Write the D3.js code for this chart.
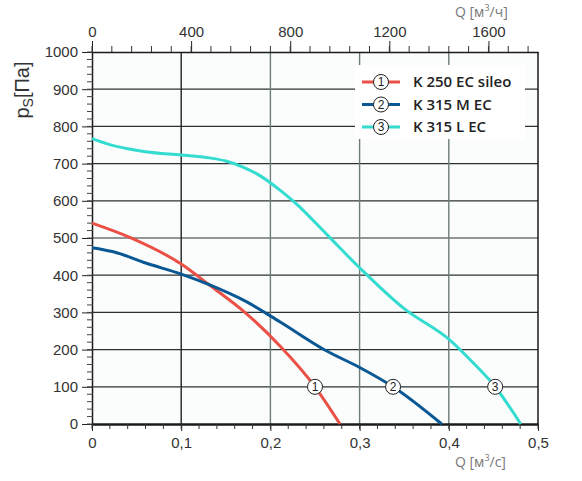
<!DOCTYPE html>
<html>
<head>
<meta charset="utf-8">
<script src="https://cdn.jsdelivr.net/npm/d3@7"></script>
<style>
  body { margin: 0; background: #fff; }
</style>
</head>
<body>
<svg id="chart" width="582" height="481"></svg>
<script>
// series data: Q in m3/s, ps in Pa
const seriesNames = ["K 250 EC sileo", "K 315 M EC", "K 315 L EC"];
const seriesColors = ["#ea5046", "#0a5893", "#34dbcf"];

const k250Q = [0, 0.043, 0.1, 0.132, 0.173, 0.211, 0.25, 0.278];
const k250P = [540, 501, 430, 373, 297, 209, 100, 0];

const k315mQ = [0, 0.024, 0.061, 0.1, 0.132, 0.173, 0.211, 0.261, 0.3, 0.3375, 0.392];
const k315mP = [474, 463, 432, 403, 374, 329, 274, 199, 152, 100, 0];

const k315lQ = [0, 0.02, 0.04, 0.06, 0.1, 0.13, 0.15, 0.17, 0.19, 0.21, 0.23, 0.265, 0.3, 0.35, 0.4, 0.425, 0.452, 0.4806];
const k315lP = [767, 751, 740, 732, 723, 716, 707, 690, 665, 630, 590, 505, 420, 310, 228, 170, 100, 0];

// where the numbered circles sit on each curve
const markerQ = [0.25, 0.3375, 0.452];
const markerP = [100, 100, 100];

const bottomTicks = [0, 0.1, 0.2, 0.3, 0.4, 0.5];
const bottomLabels = ["0", "0,1", "0,2", "0,3", "0,4", "0,5"];
const leftTicks = [0, 100, 200, 300, 400, 500, 600, 700, 800, 900, 1000];
const topTicks = [0, 400, 800, 1200, 1600];

const seriesQ = [k250Q, k315mQ, k315lQ];
const seriesP = [k250P, k315mP, k315lP];

const tickFont = "Arial, 'Liberation Sans', sans-serif";
const labelFont = "'Open Sans', sans-serif";

const svg = d3.select("#chart");
const plotL = 92, plotR = 538, plotT = 52, plotB = 424;

const x = d3.scaleLinear().domain([0, 0.5]).range([plotL, plotR]);
const xh = d3.scaleLinear().domain([0, 1800]).range([plotL, plotR]);
const y = d3.scaleLinear().domain([0, 1000]).range([plotB, plotT]);

// plot background
svg.append("rect")
  .attr("x", plotL).attr("y", plotT)
  .attr("width", plotR - plotL).attr("height", plotB - plotT)
  .attr("fill", "#fbfdfd");

// grid
svg.append("g")
  .selectAll("line")
  .data(leftTicks.slice(1, -1))
  .join("line")
  .attr("x1", plotL).attr("x2", plotR)
  .attr("y1", d => y(d)).attr("y2", d => y(d))
  .attr("stroke", "#2b3131").attr("stroke-width", 1.2);

svg.append("g")
  .selectAll("line")
  .data(bottomTicks.slice(1, -1))
  .join("line")
  .attr("x1", d => x(d)).attr("x2", d => x(d))
  .attr("y1", plotT).attr("y2", plotB)
  .attr("stroke", (d, i) => i === 0 ? "#222" : "#6e7b7b").attr("stroke-width", 1.4);

// legend box hides the grid behind it
const legend = svg.append("g");
legend.append("rect")
  .attr("x", 355).attr("y", 65).attr("width", 170).attr("height", 74)
  .attr("fill", "#fff");

// axes
const axisBottom = d3.axisBottom(x)
  .tickValues(bottomTicks)
  .tickFormat((d, i) => bottomLabels[i])
  .tickSize(7).tickSizeOuter(0);
const gB = svg.append("g").attr("transform", `translate(0,${plotB})`).call(axisBottom);
gB.append("g").selectAll("line")
  .data(d3.range(0, 0.5001, 0.02))
  .join("line")
  .attr("x1", d => x(d)).attr("x2", d => x(d))
  .attr("y1", 0).attr("y2", 5)
  .attr("stroke", "#333");

const axisLeft = d3.axisLeft(y)
  .tickValues(leftTicks)
  .tickFormat(d3.format("d"))
  .tickSize(10).tickSizeOuter(0);
const gL = svg.append("g").attr("transform", `translate(${plotL},0)`).call(axisLeft);
gL.append("g").selectAll("line")
  .data(d3.range(0, 1001, 20))
  .join("line")
  .attr("x1", -5).attr("x2", 1)
  .attr("y1", d => y(d)).attr("y2", d => y(d))
  .attr("stroke", "#444");

const axisTop = d3.axisTop(xh)
  .tickValues(topTicks)
  .tickFormat(d3.format("d"))
  .tickSize(11).tickSizeOuter(0);
const gT = svg.append("g").attr("transform", `translate(0,${plotT})`).call(axisTop);
gT.append("g").selectAll("line")
  .data(d3.range(0, 1801, 80))
  .join("line")
  .attr("x1", d => xh(d)).attr("x2", d => xh(d))
  .attr("y1", 0).attr("y2", -6)
  .attr("stroke", "#333");

[gB, gL, gT].forEach(g => {
  g.attr("font-family", tickFont);
  g.select(".domain").attr("stroke", "#1a1a1a");
  g.selectAll(".tick line").attr("stroke", "#222");
  g.selectAll(".tick text").attr("font-size", 15).attr("fill", "#333");
});
gB.select(".domain").attr("stroke-width", 2.5);
gL.select(".domain").attr("stroke-width", 1.5);
gT.select(".domain").attr("stroke-width", 1.5);
gB.selectAll(".tick text").attr("dy", "0.9em");
gL.selectAll(".tick text").attr("x", -14);
gT.selectAll(".tick text").attr("dy", "-0.1em");

// right border
svg.append("line")
  .attr("x1", plotR).attr("x2", plotR).attr("y1", plotT).attr("y2", plotB)
  .attr("stroke", "#1a1a1a").attr("stroke-width", 1.5);

// curves
const line = d3.line()
  .x(d => x(d[0])).y(d => y(d[1]))
  .curve(d3.curveMonotoneX);

seriesQ.forEach((qs, i) => {
  const pts = qs.map((q, j) => [q, seriesP[i][j]]);
  svg.append("path")
    .datum(pts)
    .attr("d", line)
    .attr("fill", "none")
    .attr("stroke", seriesColors[i])
    .attr("stroke-width", 3);
});

// numbered markers on curves
markerQ.forEach((q, i) => {
  const g = svg.append("g").attr("transform", `translate(${x(q)},${y(markerP[i])})`);
  g.append("circle").attr("r", 7.5).attr("fill", "#fff").attr("stroke", "#222").attr("stroke-width", 1);
  g.append("text").attr("text-anchor", "middle").attr("dy", "0.36em")
    .attr("font-family", tickFont).attr("font-size", 12).attr("fill", "#222").text(i + 1);
});

// legend rows
seriesNames.forEach((name, i) => {
  const ly = 82 + i * 22.5;
  const row = legend.append("g").attr("transform", `translate(0,${ly})`);
  row.append("line").attr("x1", 362).attr("x2", 400).attr("y1", 0).attr("y2", 0)
    .attr("stroke", seriesColors[i]).attr("stroke-width", 3);
  row.append("circle").attr("cx", 381).attr("r", 7.5)
    .attr("fill", "#fff").attr("stroke", "#222").attr("stroke-width", 1);
  row.append("text").attr("x", 381).attr("text-anchor", "middle").attr("dy", "0.36em")
    .attr("font-family", tickFont).attr("font-size", 12).attr("fill", "#222").text(i + 1);
  row.append("text").attr("x", 413).attr("dy", "0.36em")
    .attr("font-family", labelFont).attr("font-weight", 600)
    .attr("font-size", 15).attr("fill", "#222").text(name);
});

// axis titles
const topTitle = svg.append("text").attr("x", 455).attr("y", 17)
  .attr("font-family", labelFont).attr("font-size", 14).attr("fill", "#777");
topTitle.append("tspan").text("Q [м");
topTitle.append("tspan").attr("font-size", 9).attr("dy", -6).text("3");
topTitle.append("tspan").attr("dy", 6).text("/ч]");

const botTitle = svg.append("text").attr("x", 455).attr("y", 467)
  .attr("font-family", labelFont).attr("font-size", 14).attr("fill", "#777");
botTitle.append("tspan").text("Q [м");
botTitle.append("tspan").attr("font-size", 9).attr("dy", -6).text("3");
botTitle.append("tspan").attr("dy", 6).text("/с]");

const yTitle = svg.append("text")
  .attr("transform", "translate(29,90) rotate(-90)")
  .attr("text-anchor", "middle")
  .attr("font-family", tickFont).attr("font-size", 20).attr("fill", "#333");
yTitle.append("tspan").text("p");
yTitle.append("tspan").attr("font-size", 14).attr("dy", 4).text("S");
yTitle.append("tspan").attr("dy", -4).text("[Па]");
</script>
</body>
</html>
